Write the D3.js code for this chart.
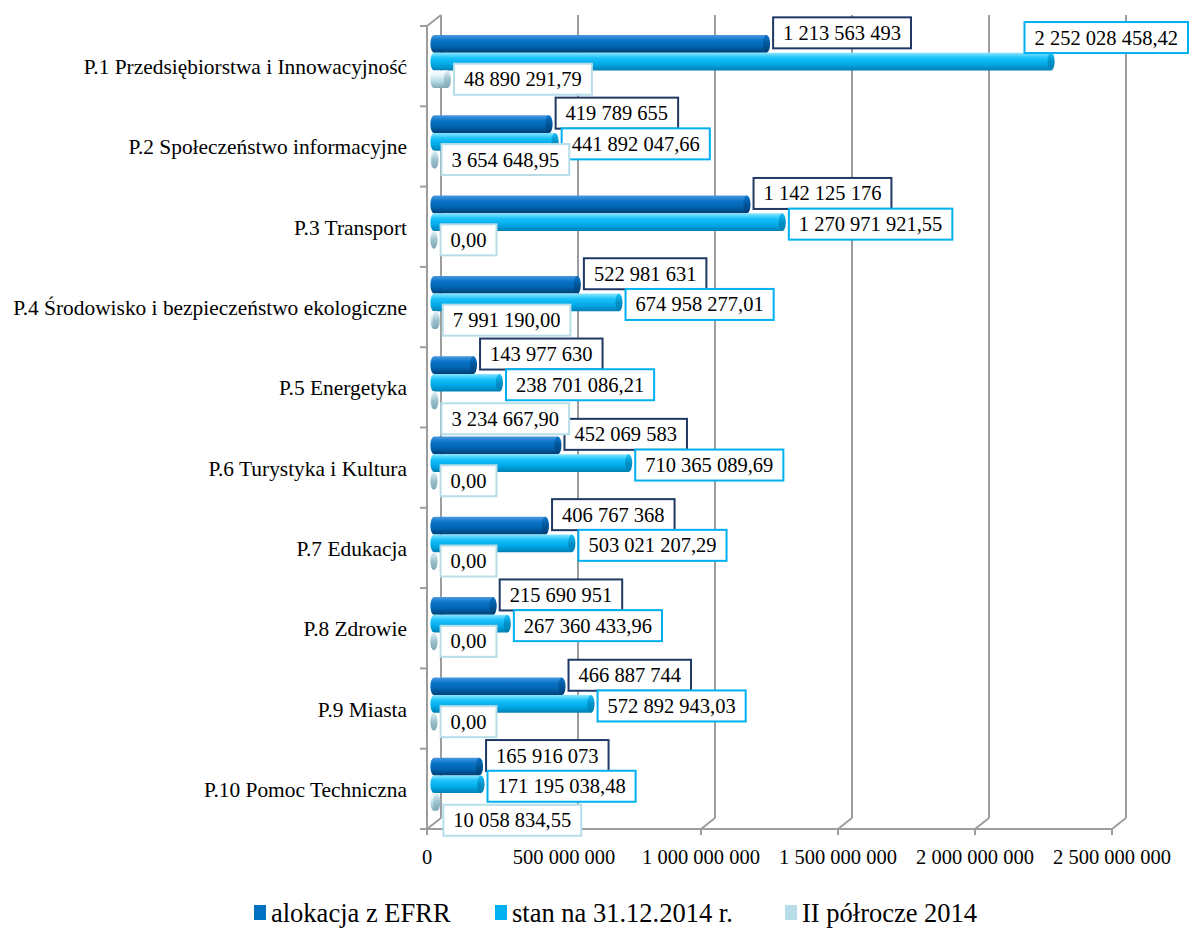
<!DOCTYPE html>
<html><head><meta charset="utf-8">
<script src="https://cdn.jsdelivr.net/npm/d3@7"></script>
<style>body{margin:0;background:#fff}svg{display:block}</style>
</head><body><svg id="c" width="1191" height="930"></svg>
<script>
const categories = ["P.1 Przedsiębiorstwa i Innowacyjność","P.2 Społeczeństwo informacyjne","P.3 Transport","P.4 Środowisko i bezpieczeństwo ekologiczne","P.5 Energetyka","P.6 Turystyka i Kultura","P.7 Edukacja","P.8 Zdrowie","P.9 Miasta","P.10 Pomoc Techniczna"];
const alokacja = [1213563493,419789655,1142125176,522981631,143977630,452069583,406767368,215690951,466887744,165916073];
const stan = [2252028458.42,441892047.66,1270971921.55,674958277.01,238701086.21,710365089.69,503021207.29,267360433.96,572892943.03,171195038.48];
const polrocze = [48890291.79,3654648.95,0,7991190.00,3234667.90,0,0,0,0,10058834.55];
const seriesNames = ["alokacja z EFRR","stan na 31.12.2014 r.","II półrocze 2014"];
const tickValues = [0,500000000,1000000000,1500000000,2000000000,2500000000];

const W = 1191, H = 930;
const FONT = "'Liberation Serif', 'Times New Roman', Times, 'DejaVu Serif', serif";
const svg = d3.select("#c").attr("font-family", FONT).style("font-family", FONT);
svg.append("rect").attr("width",W).attr("height",H).attr("fill","#fff");
const loc = d3.formatLocale({decimal:",",thousands:" ",grouping:[3],currency:["",""]});
const fInt = loc.format(",.0f"), fDec = loc.format(",.2f");

const xMid = d3.scaleLinear().domain([0,2500000000]).range([434,1119]);
const xFront = d3.scaleLinear().domain([0,2500000000]).range([427,1112]);
const xBack = d3.scaleLinear().domain([0,2500000000]).range([441,1126]);
const y = d3.scaleBand().domain(categories).range([26,829]).padding(0);
const yBackTop = 15, yBackFloor = 818, yFrontFloor = 829, yFrontTop = 26;

const defs = svg.append("defs");
const pal = [
  {stops:["#4a9ae0","#0b74c8","#0064b0","#003e74"], cap:"#00569a", border:"#1f3864", legend:"#0070c0"},
  {stops:["#8be6ff","#19c2fa","#00a9e8","#0080b4"], cap:"#0090c6", border:"#00b0f0", legend:"#00b0f0"},
  {stops:["#ffffff","#e2f2f7","#b2d6e2","#7ea6b4"], cap:"#9cc2ce", border:"#b7dee8", legend:"#b7dee8"}
];
pal.forEach((p,i)=>{
  const g = defs.append("linearGradient").attr("id","g"+i).attr("x1",0).attr("y1",0).attr("x2",0).attr("y2",1);
  [0,0.3,0.65,1].forEach((o,k)=>g.append("stop").attr("offset",o).attr("stop-color",p.stops[k]));
  const c = defs.append("linearGradient").attr("id","c"+i).attr("x1",0).attr("y1",0).attr("x2",0).attr("y2",1);
  c.append("stop").attr("offset",0).attr("stop-color",p.stops[1]);
  c.append("stop").attr("offset",0.5).attr("stop-color",p.cap);
  c.append("stop").attr("offset",1).attr("stop-color",p.stops[3]);
});

// gridlines / walls
const grid = svg.append("g").attr("stroke","#9d9d9d").attr("stroke-width",2).attr("fill","none");
tickValues.forEach(t=>{
  grid.append("line").attr("x1",xBack(t)).attr("x2",xBack(t)).attr("y1",yBackTop).attr("y2",yBackFloor);
  grid.append("line").attr("x1",xFront(t)).attr("x2",xBack(t)).attr("y1",yFrontFloor).attr("y2",yBackFloor);
  grid.append("line").attr("x1",xFront(t)).attr("x2",xFront(t)).attr("y1",yFrontFloor).attr("y2",yFrontFloor+6);
});
grid.append("line").attr("x1",420).attr("x2",xFront(2500000000)).attr("y1",yFrontFloor).attr("y2",yFrontFloor);
grid.append("line").attr("x1",xFront(0)).attr("x2",xFront(0)).attr("y1",yFrontTop).attr("y2",yFrontFloor);
grid.append("line").attr("x1",xFront(0)).attr("x2",xBack(0)).attr("y1",yFrontTop).attr("y2",yBackTop);
const bounds = categories.map(c=>y(c)).concat([y.range()[1]]);
bounds.forEach(b=>grid.append("line").attr("x1",420).attr("x2",xFront(0)).attr("y1",b).attr("y2",b));

// x tick labels
svg.append("g").selectAll("text").data(tickValues).join("text")
  .attr("x",d=>xFront(d)).attr("y",864).attr("text-anchor","middle")
  .attr("font-size",20.5).attr("fill","#000").text(d=>fInt(d));

// category labels
svg.append("g").selectAll("text").data(categories).join("text")
  .attr("x",407).attr("y",d=>y(d)+y.bandwidth()/2+8).attr("text-anchor","end")
  .attr("font-size",21.4).attr("fill","#000").text(d=>d);

// bars
const series = [alokacja, stan, polrocze];
const barH = 17.7, barOff = 9, capRx = 3.6;
const barY = (ci,si)=> y(categories[ci]) + barOff + si*barH;
const bars = svg.append("g");
series.forEach((vals,si)=>{
  vals.forEach((v,ci)=>{
    const x0 = xMid(0), x1 = xMid(v), yt = barY(ci,si), yc = yt+barH/2, ry = barH/2;
    const g = bars.append("g");
    g.append("path").attr("fill",`url(#g${si})`)
      .attr("d",`M${x0},${yt} L${x1},${yt} L${x1},${yt+barH} L${x0},${yt+barH} A${capRx},${ry} 0 0 1 ${x0},${yt} Z`);
    g.append("ellipse").attr("cx",x1).attr("cy",yc).attr("rx",capRx).attr("ry",ry).attr("fill",`url(#c${si})`);
  });
});

// data labels
const labels = svg.append("g");
const dy = [-11, 2, 0];
const boxH = 31, padX = 10;
const placed = categories.map(()=>[]);
series.forEach((vals,si)=>{
  vals.forEach((v,ci)=>{
    const txt = si===0 ? fInt(v) : fDec(v);
    const g = labels.append("g");
    const t = g.append("text").attr("font-size",20.5).attr("fill","#000").text(txt);
    const tw = t.node().getComputedTextLength();
    const bw = tw + 2*padX;
    let bx = xMid(v) + capRx + 3;
    let cy = barY(ci,si) + barH/2 + dy[si];
    if (bx + bw > W - 2) { bx = W - 3 - bw; cy = barY(ci,si) + barH/2 - 24; }
    if (si === 2) {
      const prev = placed[ci][1];
      if (prev && bx + bw > prev.x + 12) {
        const top = cy - boxH/2;
        if (top < prev.y + boxH + 2) cy = prev.y + boxH + 3 + boxH/2;
      }
    }
    placed[ci][si] = {x:bx, y:cy-boxH/2, w:bw};
    g.insert("rect","text").attr("x",bx).attr("y",cy-boxH/2).attr("width",bw).attr("height",boxH)
      .attr("fill","#fff").attr("stroke",pal[si].border).attr("stroke-width",2);
    t.attr("x",bx+padX).attr("y",cy+7);
  });
});

// legend
const legX = [254, 495, 785];
const leg = svg.append("g");
seriesNames.forEach((n,i)=>{
  leg.append("rect").attr("x",legX[i]).attr("y",905).attr("width",12).attr("height",15).attr("fill",pal[i].legend);
  leg.append("text").attr("x",legX[i]+17).attr("y",922).attr("font-size",26.5).attr("fill","#000").text(n);
});
</script></body></html>
